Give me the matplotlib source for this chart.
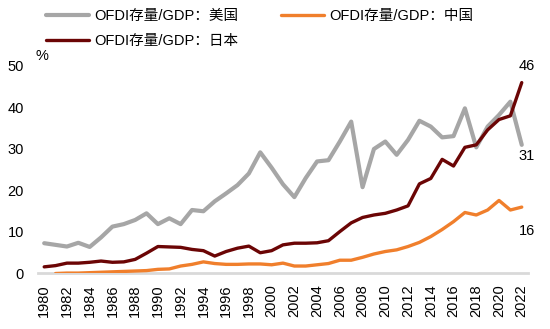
import matplotlib
matplotlib.use('Agg')
import matplotlib.pyplot as plt
import numpy as np

plt.rcParams['font.family'] = ['Liberation Sans', 'Noto Sans CJK SC', 'DejaVu Sans']

# 年份与三国 OFDI 存量/GDP（%）
years = np.arange(1980, 2023)
usa = [7.3, 6.9, 6.5, 7.4, 6.4, 8.7, 11.3, 11.9, 12.9, 14.5,
       11.9, 13.3, 11.9, 15.3, 15.0, 17.4, 19.3, 21.3, 24.1, 29.2,
       25.5, 21.5, 18.4, 23.0, 27.0, 27.3, 31.8, 36.6, 20.8, 30.0,
       31.8, 28.6, 32.2, 36.8, 35.4, 32.8, 33.1, 39.8, 30.4, 35.4,
       38.2, 41.4, 31.0]
china = [np.nan, 0.0, 0.1, 0.1, 0.2, 0.3, 0.4, 0.5, 0.6, 0.7,
         1.0, 1.1, 1.8, 2.2, 2.8, 2.4, 2.2, 2.2, 2.3, 2.3,
         2.1, 2.5, 1.8, 1.8, 2.1, 2.4, 3.2, 3.2, 3.9, 4.7,
         5.3, 5.7, 6.5, 7.5, 8.9, 10.6, 12.5, 14.7, 14.1, 15.3,
         17.6, 15.3, 16.0]
japan = [1.6, 1.9, 2.5, 2.5, 2.7, 3.0, 2.7, 2.8, 3.4, 4.9,
         6.5, 6.4, 6.3, 5.8, 5.5, 4.2, 5.3, 6.1, 6.6, 5.0,
         5.5, 6.9, 7.3, 7.3, 7.4, 7.9, 10.1, 12.2, 13.5, 14.1,
         14.5, 15.3, 16.3, 21.6, 22.9, 27.5, 25.9, 30.4, 31.0, 34.6,
         37.1, 38.0, 46.0]
labels = ['OFDI存量/GDP：美国', 'OFDI存量/GDP：中国', 'OFDI存量/GDP：日本']

fig = plt.figure(figsize=(5.5, 3.29), dpi=100)
ax = fig.add_axes([0.069, 0.1687, 0.891, 0.6307])

l_us, = ax.plot(years, usa, color='#A6A6A6', lw=3.0, solid_joinstyle='round', solid_capstyle='round')
l_cn, = ax.plot(years, china, color='#F07F2C', lw=2.4, solid_joinstyle='round', solid_capstyle='round')
l_jp, = ax.plot(years, japan, color='#6B0505', lw=2.4, solid_joinstyle='round', solid_capstyle='round')

ax.set_xlim(1979.45, 2022.55)
ax.set_ylim(0, 50)
ax.set_yticks(range(0, 51, 10))
ax.set_xticks(range(1980, 2023, 2))
ax.tick_params(axis='x', rotation=90, length=0, pad=8, labelsize=10.5)
ax.tick_params(axis='y', length=0, pad=10, labelsize=10.5)
for s in ['top', 'right', 'left']:
    ax.spines[s].set_visible(False)
ax.spines['bottom'].set_color('#D9D9D9')
ax.spines['bottom'].set_linewidth(2)
ax.spines['bottom'].set_zorder(0)

# 末端数值标注
ax.annotate(f'{japan[-1]:.0f}', xy=(years[-1], japan[-1]), xytext=(3.5, 7),
            textcoords='offset points', ha='center', va='bottom', fontsize=10.5)
ax.annotate(f'{usa[-1]:.0f}', xy=(years[-1], usa[-1]), xytext=(3.5, -3),
            textcoords='offset points', ha='center', va='top', fontsize=10.5)
ax.annotate(f'{china[-1]:.0f}', xy=(years[-1], china[-1]), xytext=(3.5, -12),
            textcoords='offset points', ha='center', va='top', fontsize=10.5)

ax.text(-0.005, 1.05, '%', transform=ax.transAxes, fontsize=10.5, ha='left', va='center')

fig.legend([l_us, l_jp, l_cn], [labels[0], labels[2], labels[1]], ncol=2,
           loc='upper left', bbox_to_anchor=(0.06, 1.012), frameon=False,
           fontsize=10.5, handlelength=2.95, handletextpad=0.35,
           columnspacing=2.9, labelspacing=0.72)

fig.savefig('out.png', dpi=100)
